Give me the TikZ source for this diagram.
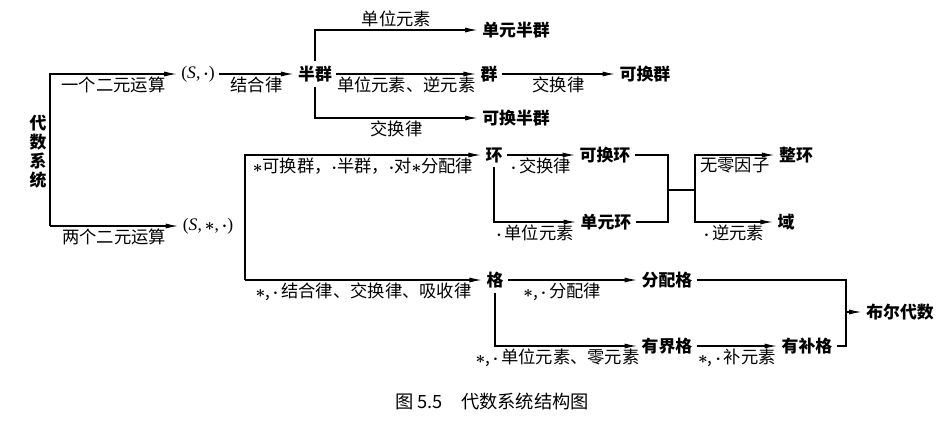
\documentclass[tikz,border=0pt]{standalone}
\usepackage{amsmath}
\usepackage{fontspec}
\setmainfont{Liberation Serif}
\newfontfamily\cjk{Noto Sans CJK SC}
\usetikzlibrary{arrows.meta}
\newcommand{\opstar}{$\boldsymbol{\ast}$}
\newcommand{\opdot}{$\boldsymbol{\cdot}$}
\tikzset{
  term/.style={font=\cjk\bfseries\fontsize{12}{13.5}\selectfont, inner sep=3pt},
  pair/.style={font=\fontsize{12.5}{14}\selectfont, inner sep=3pt},
  law/.style={font=\cjk\fontsize{12.3}{14}\selectfont, inner sep=1.5pt},
  wire/.style={line width=0.9pt},
  link/.style={line width=0.9pt, -{Latex[length=9pt, width=3.6pt]}}
}

\begin{document}
\begin{tikzpicture}[x=0.025cm, y=-0.025cm]
    \useasboundingbox (0,0) rectangle (942,429);
    \node[term, align=center] (algsys) at (38,152) {代\\数\\系\\统};
    \coordinate (algfork) at (50,226);
    \node[pair] (sone) at (198,74) {(\textit{S},\,\opdot)};
    \node[pair] (stwo) at (208,226) {(\textit{S},\,\opstar,\,\opdot)};
    \draw[wire] (algfork) -- (50,74);
    \draw[link] (algfork) |- node[law, pos=0.75, below] {一个二元运算} (sone);
    \draw[link] (algfork) -- node[law, below] {两个二元运算} (stwo);

    \node[term] (semigrp) at (315,74) {半群};
    \node[term] (monoid) at (516,30) {单元半群};
    \node[term] (group) at (489,74) {群};
    \node[term] (abgroup) at (645,74) {可换群};
    \node[term] (commsg) at (516,118) {可换半群};
    \draw[link] (sone) -- node[law, below] {结合律} (semigrp);
    \draw[link] (semigrp.north) |- node[law, pos=0.75, above] {单位元素} (monoid);
    \draw[link] (semigrp) -- node[law, below] {单位元素、逆元素} (group);
    \draw[link] (semigrp.south) |- node[law, pos=0.75, below] {交换律} (commsg);
    \draw[link] (group) -- node[law, below] {交换律} (abgroup);

    \coordinate (fork) at (245,280);
    \node[term] (ring) at (494,155) {环};
    \node[term] (lattice) at (495,280) {格};
    \draw[link] (fork) |- node[law, pos=0.75, below]
        {\opstar 可换群，\opdot 半群，\opdot 对\opstar 分配律} (ring);
    \draw[link] (fork) -- node[law, below]
        {\opstar,\,\opdot\,结合律、交换律、吸收律} (lattice);

    \node[term] (commring) at (605,155) {可换环};
    \node[term] (unitring) at (606,222) {单元环};
    \draw[link] (ring) -- node[law, below] {\opdot\,交换律} (commring);
    \draw[link] (ring.south) |- node[law, pos=0.75, below] {\opdot\,单位元素} (unitring);

    \coordinate (ringjoin) at (668,190);
    \coordinate (ringsplit) at (695,190);
    \node[term] (intdom) at (796,155) {整环};
    \node[term] (field) at (786,222) {域};
    \draw[wire] (commring) -| (ringjoin) |- (unitring);
    \draw[wire] (ringjoin) -- (ringsplit);
    \draw[link] (ringsplit) |- node[law, pos=0.75, below] {无零因子} (intdom);
    \draw[link] (ringsplit) |- node[law, pos=0.75, below] {\opdot\,逆元素} (field);

    \node[term] (distlat) at (667,280) {分配格};
    \node[term] (boundlat) at (667,346) {有界格};
    \node[term] (complat) at (807,346) {有补格};
    \node[term] (boolalg) at (900,312) {布尔代数};
    \coordinate (booljoin) at (846,312);
    \draw[link] (lattice) -- node[law, below, pos=0.42] {\opstar,\,\opdot\,分配律} (distlat);
    \draw[link] (lattice.south) |- node[law, pos=0.72, below]
        {\opstar,\,\opdot\,单位元素、零元素} (boundlat);
    \draw[link] (boundlat) -- node[law, below] {\opstar,\,\opdot\,补元素} (complat);
    \draw[wire] (distlat) -| (booljoin) |- (complat);
    \draw[link] (booljoin) -- (boolalg);

    \node[law, font=\cjk\fontsize{13}{15}\selectfont] (caption) at (492,402)
        {图 5.5\quad 代数系统结构图};
\end{tikzpicture}
\end{document}
